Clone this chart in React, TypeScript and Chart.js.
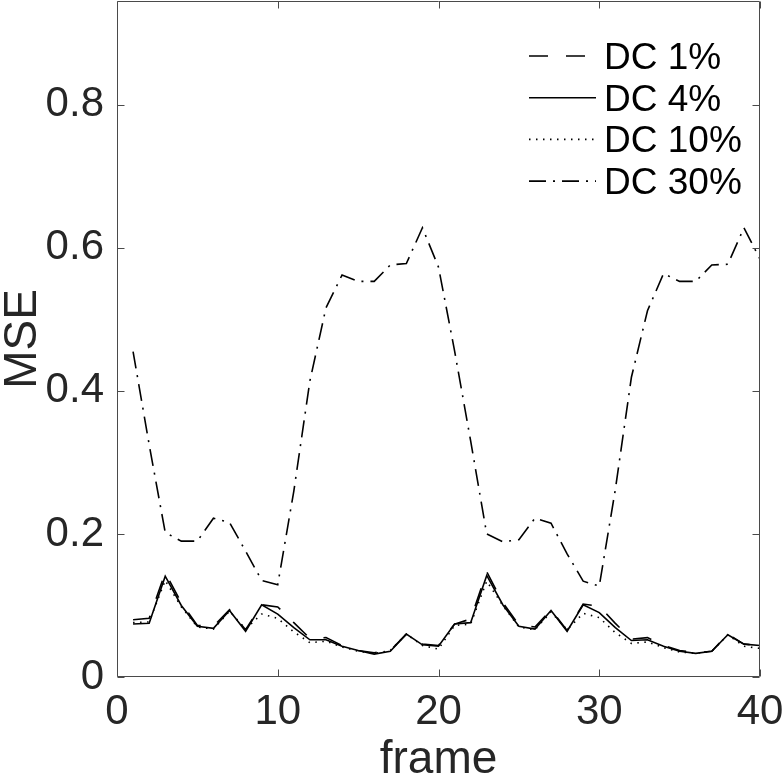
import { useEffect, useRef } from 'react';
import { Chart, registerables } from 'chart.js';

Chart.register(...registerables);

const frames = [
  1, 2, 3, 4, 5, 6, 7, 8, 9, 10, 11, 12, 13, 14, 15, 16, 17, 18, 19, 20,
  21, 22, 23, 24, 25, 26, 27, 28, 29, 30, 31, 32, 33, 34, 35, 36, 37, 38, 39, 40,
];

const dc1 = [
  0.080, 0.082, 0.146, 0.104, 0.072, 0.071, 0.094, 0.066, 0.101, 0.098,
  0.076, 0.054, 0.055, 0.044, 0.037, 0.034, 0.037, 0.060, 0.046, 0.044,
  0.074, 0.081, 0.147, 0.104, 0.073, 0.070, 0.094, 0.065, 0.102, 0.099,
  0.075, 0.053, 0.055, 0.044, 0.037, 0.034, 0.036, 0.060, 0.046, 0.044,
];

const dc4 = [
  0.074, 0.075, 0.141, 0.100, 0.071, 0.068, 0.093, 0.064, 0.101, 0.088,
  0.069, 0.052, 0.052, 0.043, 0.037, 0.032, 0.036, 0.060, 0.045, 0.043,
  0.074, 0.076, 0.142, 0.101, 0.071, 0.067, 0.093, 0.064, 0.101, 0.090,
  0.069, 0.051, 0.052, 0.043, 0.036, 0.033, 0.036, 0.059, 0.046, 0.044,
];

const dc10 = [
  0.076, 0.077, 0.135, 0.098, 0.070, 0.067, 0.092, 0.067, 0.088, 0.082,
  0.063, 0.048, 0.050, 0.042, 0.036, 0.033, 0.037, 0.060, 0.044, 0.039,
  0.072, 0.074, 0.134, 0.100, 0.070, 0.066, 0.091, 0.066, 0.089, 0.083,
  0.062, 0.047, 0.049, 0.041, 0.035, 0.033, 0.036, 0.059, 0.043, 0.040,
];

const dc30 = [
  0.455, 0.325, 0.202, 0.190, 0.190, 0.222, 0.216, 0.176, 0.135, 0.129,
  0.260, 0.414, 0.516, 0.562, 0.553, 0.553, 0.576, 0.578, 0.628, 0.573,
  0.456, 0.330, 0.200, 0.189, 0.192, 0.222, 0.215, 0.172, 0.134, 0.127,
  0.262, 0.419, 0.512, 0.564, 0.553, 0.553, 0.576, 0.577, 0.628, 0.584,
];

const seriesLabels = ['DC 1%', 'DC 4%', 'DC 10%', 'DC 30%'];
const xTickValues = [0, 10, 20, 30, 40];
const yTickValues = [0, 0.2, 0.4, 0.6, 0.8];

const AXIS_COLOR = '#262626';
const BOX_COLOR = '#4a4a4a';
const FONT = "'Liberation Sans', Arial, Helvetica, sans-serif";

const boxPlugin = {
  id: 'matlabBox',
  afterDatasetsDraw(chart: any) {
    const { ctx, chartArea: a, scales } = chart;
    ctx.save();
    ctx.strokeStyle = BOX_COLOR;
    ctx.lineWidth = 1;
    ctx.setLineDash([]);
    const L = Math.round(a.left) + 0.5;
    const R = Math.round(a.right) - 0.5;
    const T = Math.round(a.top) + 0.5;
    const B = Math.round(a.bottom) - 0.5;
    const tl = 7;
    ctx.beginPath();
    ctx.rect(L, T, R - L, B - T);
    scales.x.ticks.forEach((t: any) => {
      const px = Math.round(scales.x.getPixelForValue(t.value)) + 0.5;
      ctx.moveTo(px, B);
      ctx.lineTo(px, B - tl);
      ctx.moveTo(px, T);
      ctx.lineTo(px, T + tl);
    });
    scales.y.ticks.forEach((t: any) => {
      const py = Math.round(scales.y.getPixelForValue(t.value)) + 0.5;
      ctx.moveTo(L, py);
      ctx.lineTo(L + tl, py);
      ctx.moveTo(R, py);
      ctx.lineTo(R - tl, py);
    });
    ctx.stroke();

    // legend inside the axes, top right
    const x0 = a.right - 231;
    const x1 = a.right - 164;
    const xt = a.right - 156;
    ctx.font = `37px ${FONT}`;
    ctx.textAlign = 'left';
    ctx.textBaseline = 'alphabetic';
    chart.data.datasets.forEach((ds: any, i: number) => {
      const yl = a.top + 55 + i * 41.7;
      ctx.beginPath();
      ctx.strokeStyle = ds.borderColor;
      ctx.lineWidth = ds.borderWidth;
      ctx.setLineDash(ds.borderDash || []);
      ctx.moveTo(x0, yl);
      ctx.lineTo(x1, yl);
      ctx.stroke();
      ctx.setLineDash([]);
      ctx.fillStyle = '#000';
      ctx.fillText(ds.label, xt, yl + 13);
    });
    ctx.restore();
  },
};

export default function App() {
  const ref = useRef<HTMLCanvasElement | null>(null);

  useEffect(() => {
    if (!ref.current) return;
    const mk = (vals: number[]) => frames.map((f, i) => ({ x: f, y: vals[i] }));
    const base = {
      borderColor: '#000',
      borderWidth: 1.6,
      pointRadius: 0,
      fill: false,
      tension: 0,
    };
    const chart = new Chart(ref.current, {
      type: 'line',
      data: {
        datasets: [
          { ...base, label: seriesLabels[0], data: mk(dc1), borderDash: [19, 18] },
          { ...base, label: seriesLabels[1], data: mk(dc4), borderDash: [] },
          { ...base, label: seriesLabels[2], data: mk(dc10), borderDash: [1.5, 5.5] },
          { ...base, label: seriesLabels[3], data: mk(dc30), borderDash: [17, 7, 2, 7] },
        ],
      },
      options: {
        animation: false,
        responsive: false,
        layout: { padding: { left: 0, right: 24, top: 1, bottom: 0 } },
        plugins: {
          legend: { display: false },
          tooltip: { enabled: false },
        },
        scales: {
          x: {
            type: 'linear',
            min: 0,
            max: 40,
            grid: { display: false, drawTicks: false },
            border: { display: false },
            afterBuildTicks: (s: any) => {
              s.ticks = xTickValues.map((v) => ({ value: v }));
            },
            afterFit: (s: any) => {
              s.height = 105;
              s.paddingLeft = 0;
              s.paddingRight = 0;
              s.paddingTop = 0;
              s.paddingBottom = 0;
            },
            ticks: {
              color: AXIS_COLOR,
              font: { family: FONT, size: 42 },
              padding: 10,
              maxRotation: 0,
              autoSkip: false,
            },
            title: {
              display: true,
              text: 'frame',
              color: AXIS_COLOR,
              font: { family: FONT, size: 46 },
              padding: { top: 0, bottom: -6 },
            },
          },
          y: {
            type: 'linear',
            min: 0,
            max: 0.945,
            grid: { display: false, drawTicks: false },
            border: { display: false },
            afterBuildTicks: (s: any) => {
              s.ticks = yTickValues.map((v) => ({ value: v }));
            },
            afterFit: (s: any) => {
              s.width = 117;
              s.paddingLeft = 0;
              s.paddingRight = 0;
              s.paddingTop = 0;
              s.paddingBottom = 0;
            },
            ticks: {
              color: AXIS_COLOR,
              font: { family: FONT, size: 42 },
              padding: 13,
              callback: (v: any) => String(Math.round(Number(v) * 10) / 10),
            },
            title: {
              display: true,
              text: 'MSE',
              color: AXIS_COLOR,
              font: { family: FONT, size: 46 },
              padding: { top: -4, bottom: 0 },
            },
          },
        },
      },
      plugins: [boxPlugin],
    });
    return () => chart.destroy();
  }, []);

  return (
    <div style={{ position: 'absolute', left: 0, top: 0, width: 784, height: 782, background: '#fff' }}>
      <canvas ref={ref} width={784} height={782} style={{ display: 'block' }} />
    </div>
  );
}
